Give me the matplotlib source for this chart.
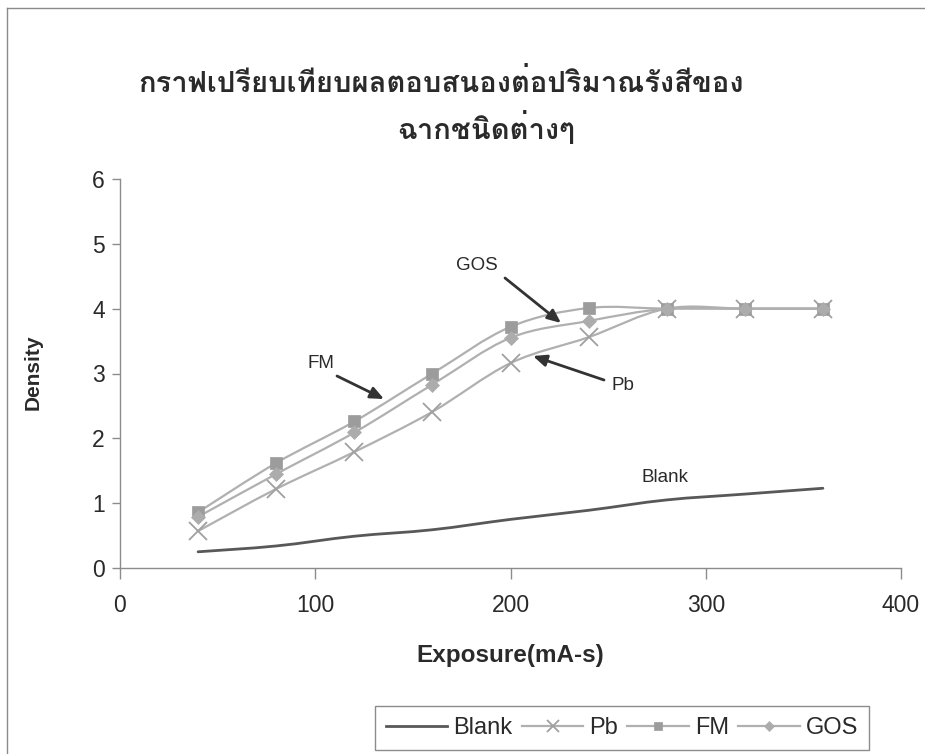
import matplotlib
matplotlib.use("Agg")
import matplotlib.pyplot as plt
from matplotlib import font_manager
from matplotlib.ft2font import FT2Font
from matplotlib.path import Path
from matplotlib.patches import PathPatch
from matplotlib.lines import Line2D
import numpy as np

# ---- data -------------------------------------------------------------
exposure = [40, 80, 120, 160, 200, 240, 280, 320, 360]
blank = [0.25, 0.34, 0.49, 0.59, 0.75, 0.89, 1.05, 1.14, 1.23]
pb = [0.57, 1.22, 1.79, 2.41, 3.16, 3.56, 4.0, 4.0, 4.0]
fm = [0.86, 1.62, 2.26, 3.0, 3.72, 4.01, 4.0, 4.0, 4.0]
gos = [0.79, 1.45, 2.09, 2.83, 3.55, 3.81, 4.0, 4.0, 4.0]

series_names = ["Blank", "Pb", "FM", "GOS"]
x_ticks = [0, 100, 200, 300, 400]
y_ticks = [0, 1, 2, 3, 4, 5, 6]

title_line1 = "กราฟเปรียบเทียบผลตอบสนองต่อปริมาณรังสีของ"
title_line2 = "ฉากชนิดต่างๆ"
x_label = "Exposure(mA-s)"
y_label = "Density"

# ---- fonts ------------------------------------------------------------
def thai_font():
    bold, regular = None, None
    for f in font_manager.fontManager.ttflist:
        try:
            cmap = FT2Font(f.fname).get_charmap()
        except Exception:
            continue
        if 0x0E01 in cmap:
            if f.weight in ("bold", 700) or str(f.weight) == "700":
                bold = bold or f.name
            regular = regular or f.name
    return bold or regular

THAI = thai_font()
SANS = "Liberation Sans"
TXT = "#2a2a2a"

W, H = 925, 754
fig = plt.figure(figsize=(W / 100, H / 100), dpi=100)

def fx(px):
    return px / W

def fy(py):
    return 1 - py / H

# chart-area frame: left and top edges
frame_kw = dict(transform=fig.transFigure, color="#8a8a8a", lw=1.0)
fig.lines.append(Line2D([fx(7), fx(7)], [fy(8), 0], **frame_kw))
fig.lines.append(Line2D([fx(7), 1], [fy(8), fy(8)], **frame_kw))

ax = fig.add_axes([fx(120), fy(568), fx(901) - fx(120), fy(179) - fy(568)])
ax.set_xlim(0, 400)
ax.set_ylim(0, 6)
ax.set_xticks(x_ticks)
ax.set_yticks(y_ticks)
for s in ("top", "right"):
    ax.spines[s].set_visible(False)
for s in ("left", "bottom"):
    ax.spines[s].set_color("#8c8c8c")
    ax.spines[s].set_linewidth(1.0)
ax.tick_params(axis="both", direction="out", color="#8c8c8c", width=1.0,
               labelsize=16.5, labelcolor=TXT)
ax.tick_params(axis="y", length=6, pad=5)
ax.tick_params(axis="x", length=8, pad=11)
for lab in ax.get_xticklabels() + ax.get_yticklabels():
    lab.set_fontfamily(SANS)


def smooth_path(xs, ys):
    """Bezier path through the points, Excel-style smoothed line."""
    pts = np.column_stack([xs, ys]).astype(float)
    n = len(pts)
    verts = [pts[0]]
    codes = [Path.MOVETO]
    for i in range(n - 1):
        p0 = pts[i - 1] if i > 0 else pts[i]
        p1 = pts[i]
        p2 = pts[i + 1]
        p3 = pts[i + 2] if i + 2 < n else pts[i + 1]
        c1 = p1 + (p2 - p0) / 6.0
        c2 = p2 - (p3 - p1) / 6.0
        verts += [c1, c2, p2]
        codes += [Path.CURVE4] * 3
    return Path(verts, codes)


styles = {
    "Blank": dict(color="#585858", lw=2.0, marker=None),
    "Pb": dict(color="#b0b0b0", lw=1.6, marker="x", ms=13, mfc="#a0a0a0",
               mec="#a0a0a0", mew=1.3),
    "FM": dict(color="#b0b0b0", lw=1.6, marker="s", ms=8, mfc="#9c9c9c",
               mec="#9c9c9c", mew=0.5),
    "GOS": dict(color="#b0b0b0", lw=1.6, marker="D", ms=7, mfc="#acacac",
                mec="#acacac", mew=0.5),
}
values = {"Blank": blank, "Pb": pb, "FM": fm, "GOS": gos}

handles = []
for name in series_names:
    st = styles[name]
    ax.add_patch(PathPatch(smooth_path(exposure, values[name]), fill=False,
                           edgecolor=st["color"], lw=st["lw"], zorder=2,
                           capstyle="round", joinstyle="round"))
    if st["marker"]:
        ax.plot(exposure, values[name], linestyle="none", marker=st["marker"],
                ms=st["ms"], mfc=st["mfc"], mec=st["mec"], mew=st["mew"],
                zorder=3)
        handles.append(Line2D([], [], color=st["color"], lw=st["lw"],
                              marker=st["marker"], ms=st["ms"] * 0.7,
                              mfc=st["mfc"], mec=st["mec"], mew=st["mew"]))
    else:
        handles.append(Line2D([], [], color=st["color"], lw=st["lw"]))

# series call-outs with arrows
arrow_kw = dict(arrowstyle="-|>,head_length=0.8,head_width=0.35",
                color="#333333", lw=2.0, shrinkA=0, shrinkB=0)


def px2data(px, py):
    return ax.transData.inverted().transform(fig.transFigure.transform((fx(px), fy(py))))


def callout(text, tx, ty, a0, a1):
    ax.text(*px2data(tx, ty), text, fontsize=13.5, family=SANS, color=TXT,
            ha="center", va="center")
    if a0 is not None:
        ax.annotate("", xy=px2data(*a1), xytext=px2data(*a0),
                    arrowprops=arrow_kw)


callout("GOS", 477, 265, (505, 278), (561, 323))
callout("FM", 321, 363, (337, 376), (384, 399))
callout("Pb", 623, 385, (604, 380), (533, 356))
callout("Blank", 665, 478, None, None)

# axis titles
ax.set_xlabel(x_label, fontsize=17.5, fontweight="bold", family=SANS, color=TXT)
ax.xaxis.set_label_coords(*ax.transAxes.inverted().transform(
    fig.transFigure.transform((fx(510), fy(644)))))
ax.set_ylabel(y_label, fontsize=15, fontweight="bold", family=SANS, color=TXT)
ax.yaxis.set_label_coords(*ax.transAxes.inverted().transform(
    fig.transFigure.transform((fx(43), fy(372)))))

# chart title
title_family = [THAI, "DejaVu Sans"] if THAI else ["DejaVu Sans"]
fig.text(fx(441), fy(84), title_line1, fontsize=21, fontweight="bold",
         family=title_family, color=TXT, ha="center", va="center")
fig.text(fx(486), fy(128), title_line2, fontsize=21, fontweight="bold",
         family=title_family, color=TXT, ha="center", va="center")

leg = fig.legend(handles, series_names, loc="center",
                 bbox_to_anchor=(fx(622), fy(728)), ncol=4, frameon=True,
                 fancybox=False, edgecolor="#8c8c8c", framealpha=1,
                 prop={"family": SANS, "size": 17}, handlelength=2.6,
                 handletextpad=0.25, columnspacing=0.4, borderpad=0.45)
leg.get_frame().set_linewidth(1.0)
for t in leg.get_texts():
    t.set_color(TXT)

fig.savefig("out.png", dpi=100)
